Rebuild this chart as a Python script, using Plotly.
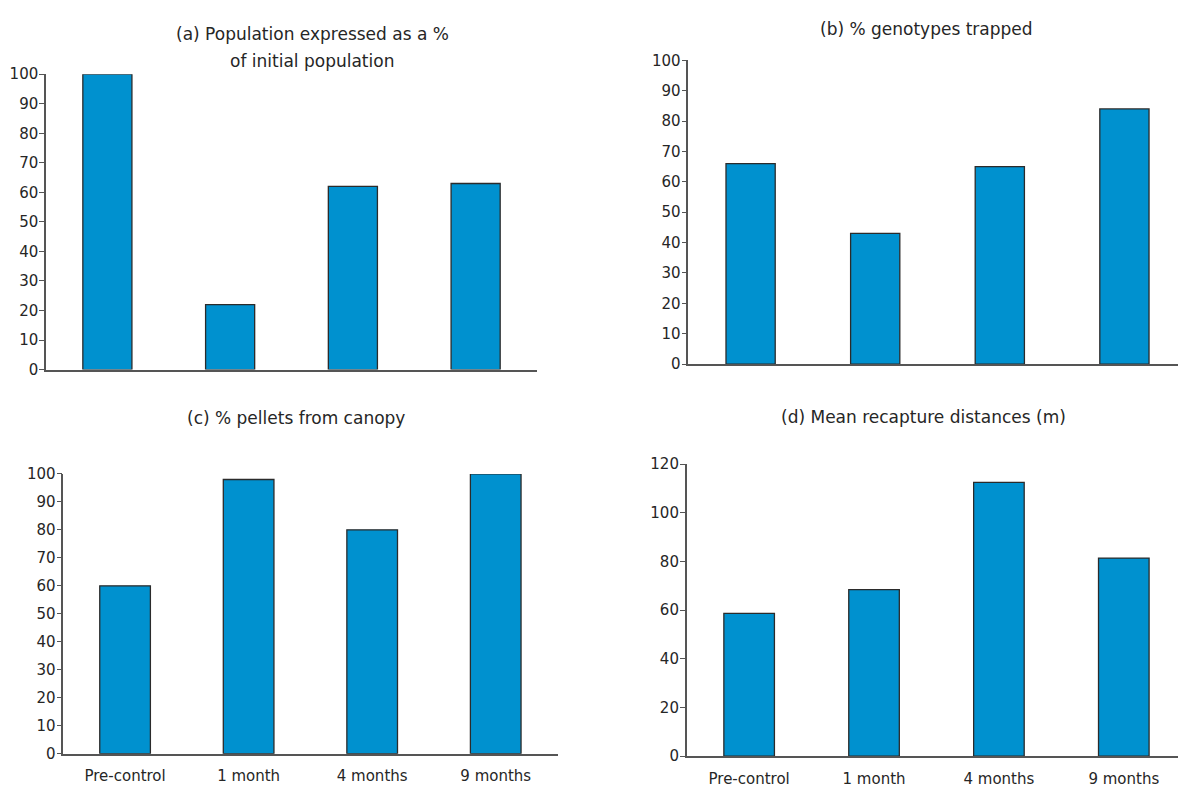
import plotly.graph_objects as go

W, H = 1178, 792

categories = ["Pre-control", "1 month", "4 months", "9 months"]
pop_pct = [100, 22, 62, 63]
genotypes_pct = [66, 43, 65, 84]
pellets_pct = [60, 98, 80, 100]
recapture_m = [58.7, 68.4, 112.5, 81.4]

titles = {
    "a": ["(a) Population expressed as a %", "of initial population"],
    "b": ["(b) % genotypes trapped"],
    "c": ["(c) % pellets from canopy"],
    "d": ["(d) Mean recapture distances (m)"],
}

BAR = "#0091cf"
EDGE = "#2b2b2b"
AXIS = "#555555"
TXT = "#262626"
FONT = "DejaVu Sans"


def px(x):
    return x / W


def py(y):
    return 1 - y / H


fig = go.Figure()

panels = [
    ("a", pop_pct, 46, 537, 369, 66.7, 100, 10, 3.5, 0.40, False),
    ("b", genotypes_pct, 688.3, 1178, 363.3, 52.5, 100, 10, 3.43, 0.395, False),
    ("c", pellets_pct, 63.3, 557.5, 762, 475.7, 100, 10, 3.5, 0.41, True),
    ("d", recapture_m, 686.7, 1178, 764.5, 465.7, 120, 20, 3.434, 0.405, True),
]

for i, (key, vals, x0, x1, yb, yt, ymax, dt, xend, bw, showx) in enumerate(panels, start=1):
    xa = "x" if i == 1 else f"x{i}"
    ya = "y" if i == 1 else f"y{i}"
    fig.add_trace(go.Bar(
        x=categories, y=vals, xaxis=xa, yaxis=ya, width=bw,
        marker=dict(color=BAR, line=dict(color=EDGE, width=1.3)),
        hoverinfo="x+y",
    ))
    xname = "xaxis" if i == 1 else f"xaxis{i}"
    yname = "yaxis" if i == 1 else f"yaxis{i}"
    fig.layout[xname] = dict(
        domain=[px(x0), px(x1)], range=[-0.5, xend], anchor=ya,
        showline=True, linecolor=AXIS, linewidth=1.5,
        ticks="outside", ticklen=8, tickcolor="rgba(0,0,0,0)",
        showgrid=False, zeroline=False, showticklabels=showx,
        tickfont=dict(family=FONT, size=15, color=TXT),
    )
    fig.layout[yname] = dict(
        domain=[py(yb), py(yt)], range=[0, ymax], anchor=xa,
        showline=True, linecolor=AXIS, linewidth=1.5,
        ticks="outside", ticklen=5, tickwidth=1.2, tickcolor=AXIS,
        dtick=dt, tick0=0, showgrid=False, zeroline=False,
        ticklabelstandoff=-2,
        tickfont=dict(family=FONT, size=15, color=TXT),
    )

title_pos = {
    "a": [(312, 26), (312, 52.7)],
    "b": [(926, 20)],
    "c": [(295.6, 418)],
    "d": [(923, 417)],
}
for key, lines in titles.items():
    for text, (tx, ty) in zip(lines, title_pos[key]):
        fig.add_annotation(
            x=px(tx), y=py(ty), xref="paper", yref="paper",
            text=text, showarrow=False, xanchor="center", yanchor="middle",
            font=dict(family=FONT, size=17, color=TXT),
        )

fig.update_layout(
    width=W, height=H, margin=dict(l=0, r=0, t=0, b=0),
    paper_bgcolor="white", plot_bgcolor="white", showlegend=False,
)

fig.write_html(
    "out.html",
    config={"displayModeBar": False},
    post_script=(
        "document.documentElement.style.margin='0';"
        "document.documentElement.style.padding='0';"
        "document.documentElement.style.overflow='hidden';"
        "document.body.style.margin='0';"
        "document.body.style.padding='0';"
        "document.body.style.overflow='hidden';"
    ),
)
